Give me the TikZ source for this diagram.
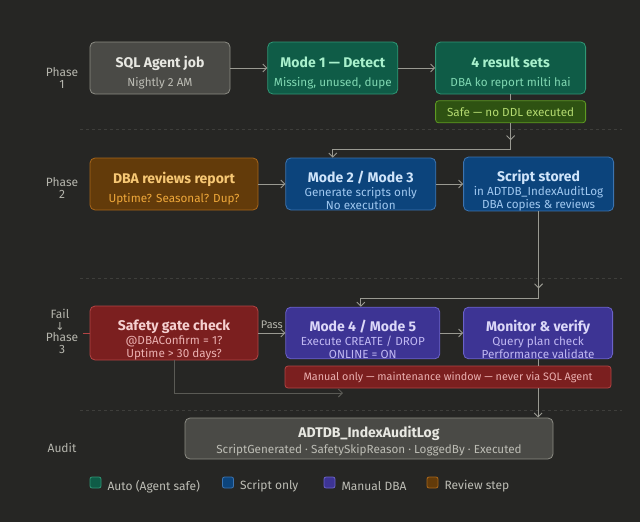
\documentclass[tikz,border=0pt]{standalone}
\usepackage{fontspec}
\setmainfont{Fira Sans}
\setsansfont{Fira Sans}
\newfontfamily\symfont{DejaVu Sans}
\usepackage{xcolor}
\definecolor{bg}{HTML}{262624}
\definecolor{sep}{HTML}{3E3E3B}
\definecolor{wire}{HTML}{9A9A92}
\definecolor{wiredark}{HTML}{5A5A55}
\definecolor{phasetxt}{HTML}{B5B5AD}
\definecolor{greyfill}{HTML}{4A4A46}
\definecolor{greyline}{HTML}{8C8C84}
\definecolor{greyttl}{HTML}{E8E8E2}
\definecolor{greysub}{HTML}{BDBDB5}
\definecolor{tealfill}{HTML}{0F5C47}
\definecolor{tealline}{HTML}{2F9775}
\definecolor{tealttl}{HTML}{A8F0CC}
\definecolor{tealsub}{HTML}{80D8B2}
\definecolor{safefill}{HTML}{2E5212}
\definecolor{safeline}{HTML}{5E9A22}
\definecolor{safetxt}{HTML}{B4DA70}
\definecolor{orgfill}{HTML}{633B0A}
\definecolor{orgline}{HTML}{A8661A}
\definecolor{orgttl}{HTML}{F7C875}
\definecolor{orgsub}{HTML}{EFA83A}
\definecolor{bluefill}{HTML}{0C447C}
\definecolor{blueline}{HTML}{3C74B0}
\definecolor{bluettl}{HTML}{CFE4FA}
\definecolor{bluesub}{HTML}{A0C8F0}
\definecolor{redfill}{HTML}{7B1F1F}
\definecolor{redline}{HTML}{B34444}
\definecolor{redttl}{HTML}{F5D0D0}
\definecolor{redsub}{HTML}{EAB0B0}
\definecolor{purfill}{HTML}{3D3494}
\definecolor{purline}{HTML}{6B62C8}
\definecolor{purttl}{HTML}{DCD8F8}
\definecolor{pursub}{HTML}{C0B8F2}
\usetikzlibrary{positioning, arrows.meta}
% title line of a box; optional strut lifts the block down
\newcommand\boxttl[3][24pt]{\rule{0pt}{#1}{\color{#2}\fontsize{14}{15}\selectfont\bfseries #3}}

\begin{document}
\begin{tikzpicture}[x=1pt, y=-1pt, every node/.style={font=\sffamily},
  box/.style={draw, rounded corners=5pt, line width=0.8pt, minimum height=52pt, inner sep=0pt, align=center, font=\sffamily\fontsize{11.7}{13.5}\selectfont},
  bar/.style={draw, rounded corners=3pt, line width=0.8pt, minimum height=22pt, inner sep=0pt},
  greybox/.style={box, fill=greyfill, draw=greyline, text=greysub},
  tealbox/.style={box, fill=tealfill, draw=tealline, text=tealsub},
  orgbox/.style={box, fill=orgfill, draw=orgline, text=orgsub},
  bluebox/.style={box, fill=bluefill, draw=blueline, text=bluesub},
  redbox/.style={box, fill=redfill, draw=redline, text=redsub},
  purbox/.style={box, fill=purfill, draw=purline, text=pursub},
  phase/.style={align=center, text=phasetxt, inner sep=0pt, font=\sffamily\fontsize{12}{12.8}\selectfont},
  flow/.style={-{Straight Barb[length=4pt, width=8pt]}, draw=wire, line width=0.9pt},
  wireln/.style={draw=wire, line width=0.9pt},
  sepline/.style={draw=sep, line width=0.7pt, dash pattern=on 3pt off 3pt},
  keybox/.style={draw, rounded corners=2pt, line width=0.8pt, minimum size=11pt, inner sep=0pt},
  keytxt/.style={text=greysub, inner sep=0pt, anchor=west, font=\sffamily\fontsize{12}{13}\selectfont}]
  % background and page size
  \fill[bg] (0,0) rectangle (640,522);
  \useasboundingbox (0,0) rectangle (640,522);

  % phase separators
  \draw[sepline] (80,129) -- (622,129);
  \draw[sepline] (80,278) -- (622,278);
  \draw[sepline] (80,410) -- (622,410);

  % phase labels
  \node[phase] (ph1) at (62,78) {Phase\\1};
  \node[phase] (ph2) at (62,188) {Phase\\2};
  \node[phase] (ph3) at (62,343) {Phase\\3};
  \node[phase] (ph4) at (62,448) {Audit};

  % Phase 1
  \node[greybox, minimum width=140pt] (sqljob) at (160,68) {\boxttl[19.5pt]{greyttl}{SQL Agent job}\\[5.5pt]Nightly 2 AM};
  \node[tealbox, minimum width=130pt, right=37pt of sqljob] (detect) {\boxttl[19.5pt]{tealttl}{Mode 1 — Detect}\\[5.5pt]Missing, unused, dupe};
  \node[tealbox, minimum width=150pt, right=37pt of detect] (results) {\boxttl[19.5pt]{tealttl}{4 result sets}\\[5.5pt]DBA ko report milti hai};
  \node[bar, fill=safefill, draw=safeline, text=safetxt, minimum width=150pt, below=6pt of results, font=\sffamily\fontsize{11.7}{13}\selectfont] (safe) {Safe — no DDL executed};

  % Phase 2
  \node[orgbox, minimum width=168pt] (review) at (174,184) {\boxttl[19.5pt]{orgttl}{DBA reviews report}\\[5.5pt]Uptime? Seasonal? Dup?};
  \node[bluebox, minimum width=150pt, right=27pt of review] (gen) {\boxttl{bluettl}{Mode 2 / Mode 3}\\[0.5pt]Generate scripts only\\No execution};
  \node[bluebox, minimum width=150pt, right=27pt of gen] (stored) {\boxttl{bluettl}{Script stored}\\[0.5pt]in ADTDB\_IndexAuditLog\\DBA copies \& reviews};

  % Phase 3
  \node[redbox, minimum width=168pt, minimum height=51pt] (gate) at (174,333) {\boxttl{redttl}{Safety gate check}\\[0.5pt]@DBAConfirm = 1?\\Uptime > 30 days?};
  \node[purbox, minimum width=154pt, minimum height=51pt, right=27pt of gate] (exec) {\boxttl{purttl}{Mode 4 / Mode 5}\\[0.5pt]Execute CREATE / DROP\\ONLINE = ON};
  \node[purbox, minimum width=149pt, minimum height=51pt, right=23pt of exec] (monitor) {\boxttl{purttl}{Monitor \& verify}\\[0.5pt]Query plan check\\Performance validate};
  \node[bar, fill=redfill, draw=redline, text=redsub, minimum width=326pt, font=\sffamily\fontsize{10.8}{13}\selectfont] (manual) at (448,377) {Manual only — maintenance window — never via SQL Agent};

  % Audit
  \node[greybox, minimum width=368pt, minimum height=41pt] (audit) at (369,438.5) {\boxttl[15.5pt]{greyttl}{ADTDB\_IndexAuditLog}\\[2.5pt]ScriptGenerated · SafetySkipReason · LoggedBy · Executed};

  % fail branch
  \node[phase] (fail) at (60,314) {Fail};
  \node[phase, font=\symfont\fontsize{11}{12}\selectfont] (failarr) at (60,326.5) {↓};
  \coordinate (failend) at (83,333);
  \draw[draw=redline, line width=0.9pt] (gate.west) -- (failend);

  % connectors
  \draw[flow] (sqljob) -- (detect);
  \draw[flow] (detect) -- (results);
  \draw[wireln] (results) -- (safe);
  \coordinate (k1) at ([yshift=-17pt]safe.south);
  \coordinate (k2) at ([xshift=-28pt]gen.north);
  \draw[flow] (safe) -- (k1);
  \draw[flow] (k1) -- ++(0,9) -| (k2);
  \draw[flow] (review) -- (gen);
  \draw[flow] (gen) -- (stored);
  \coordinate (k3) at ([yshift=-77pt]stored.south);
  \coordinate (k4) at ([xshift=-2pt]exec.north);
  \draw[flow] (stored) -- (k3);
  \draw[flow] (k3) -- ++(0,10) -| (k4);
  \draw[flow] (gate) -- node[above, text=phasetxt, inner sep=3.5pt, font=\sffamily\fontsize{11}{12}\selectfont] (pass) {Pass} (exec);
  \coordinate (k5) at (343,393);
  \draw[flow, draw=wiredark] (gate.south) |- (k5);
  \draw[flow] (exec) -- (monitor);
  \draw[wireln] (monitor.south) -- (monitor.south |- manual.north);
  \draw[flow] (monitor.south |- manual.south) -- (monitor.south |- audit.north);

  % legend
  \node[keybox, fill=tealfill, draw=tealline] (key1) at (95.5,482.5) {};
  \node[keytxt, right=6pt of key1, yshift=-4pt] (key1t) {Auto (Agent safe)};
  \node[keybox, fill=bluefill, draw=blueline] (key2) at (228,482.5) {};
  \node[keytxt, right=6pt of key2, yshift=-4pt] (key2t) {Script only};
  \node[keybox, fill=purfill, draw=purline] (key3) at (329.5,482.5) {};
  \node[keytxt, right=6pt of key3, yshift=-4pt] (key3t) {Manual DBA};
  \node[keybox, fill=orgfill, draw=orgline] (key4) at (432.5,482.5) {};
  \node[keytxt, right=6pt of key4, yshift=-4pt] (key4t) {Review step};
\end{tikzpicture}
\end{document}
